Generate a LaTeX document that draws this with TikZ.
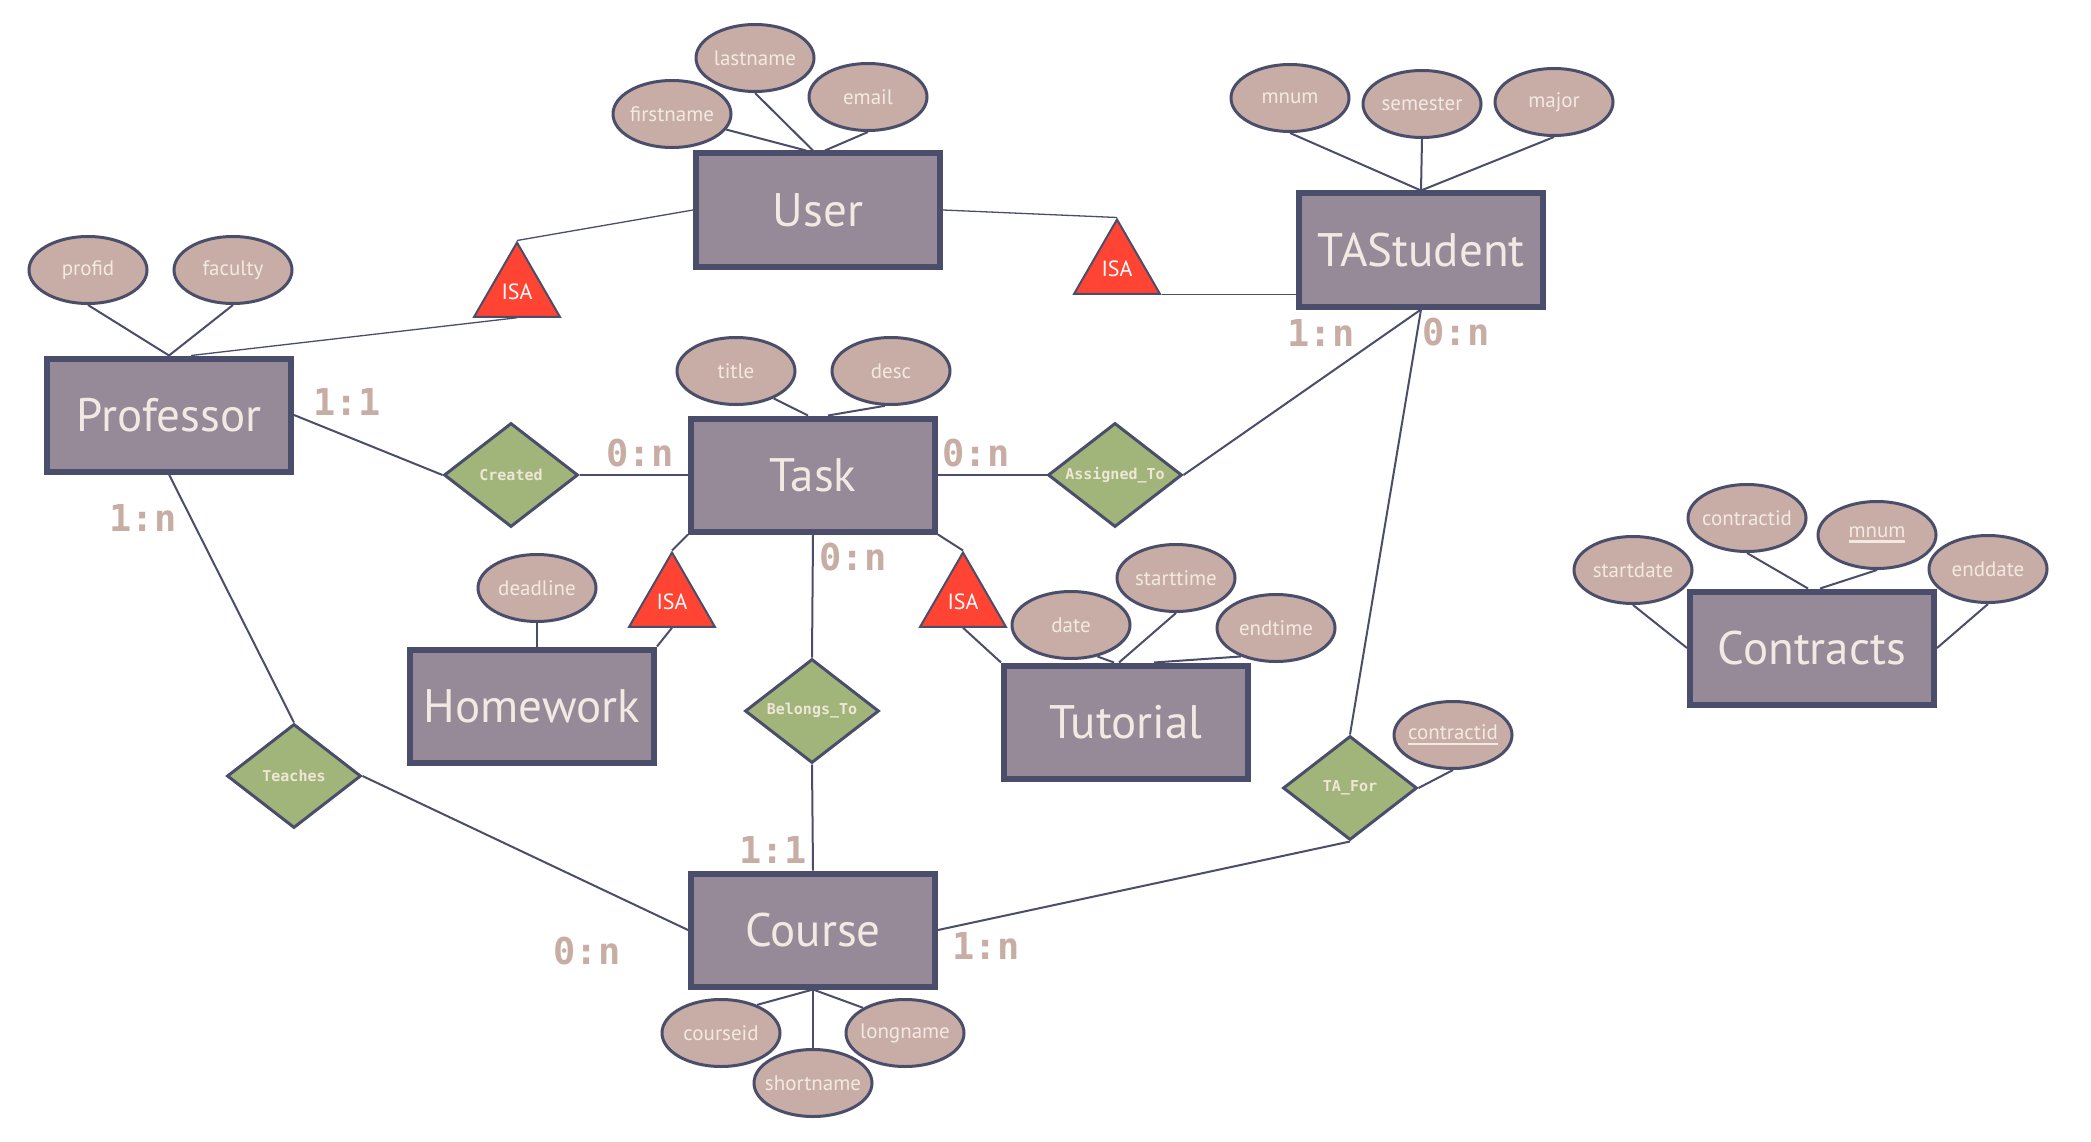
\documentclass[tikz,border=0pt]{standalone}
\usepackage{fontspec}
\setmainfont{PT Sans}
\newfontfamily\monofam{DejaVu Sans Mono}
\usetikzlibrary{shapes.geometric}
\definecolor{entfill}{HTML}{978A98}
\definecolor{edgec}{HTML}{4A4E6A}
\definecolor{attrfill}{HTML}{C7ADA6}
\definecolor{relfill}{HTML}{A1B57A}
\definecolor{isafill}{HTML}{FF4433}
\definecolor{txtc}{HTML}{F3E9E3}
\definecolor{reltxt}{HTML}{EEE6D6}
\definecolor{cardc}{HTML}{C8ADA5}
\newcommand\zw[1]{\makebox[0pt][c]{#1}}
\newcommand\myul[1]{\setbox0=\hbox{#1}\rlap{\rule[-5pt]{\wd0}{2.4pt}}\box0}
\begin{document}
\begin{tikzpicture}[x=1pt,y=-1pt,
  entity/.style={rectangle, draw=edgec, fill=entfill, line width=6pt, minimum width=244pt, minimum height=113pt, inner sep=0pt, text=txtc, font=\fontsize{47}{50}\selectfont},
  attr/.style={ellipse, draw=edgec, fill=attrfill, line width=3pt, minimum width=118pt, minimum height=67pt, inner sep=0pt, text=txtc, font=\fontsize{21}{24}\selectfont},
  rel/.style={diamond, draw=edgec, fill=relfill, line width=3pt, minimum width=134pt, minimum height=104pt, inner sep=0pt, text=reltxt, font=\monofam\bfseries\fontsize{15}{17}\selectfont},
  isa/.style={regular polygon, regular polygon sides=3, draw=edgec, fill=isafill, line width=2pt, minimum size=99pt, inner sep=0pt, text=white, font=\fontsize{22}{24}\selectfont},
  card/.style={text=cardc, font=\monofam\bfseries\fontsize{37}{40}\selectfont, inner sep=0pt},
  conn/.style={draw=edgec, line width=2pt},
  thinconn/.style={draw=edgec, line width=1.3pt}]
\fill[white] (0,0) rectangle (2091,1142);
\useasboundingbox (0,0) rectangle (2091,1142);

% entities
\node[entity] (User) at (818,210) {User};
\node[entity] (TAS) at (1421,250) {TAStudent};
\node[entity] (Prof) at (169,415) {Professor};
\node[entity] (Task) at (813,475) {Task};
\node[entity] (Homework) at (532,706) {Homework};
\node[entity] (Tutorial) at (1126,722) {Tutorial};
\node[entity] (Course) at (813,930) {Course};
\node[entity] (Contracts) at (1812,648) {Contracts};

% attributes
\node[attr] (firstname) at (672,114) {\zw{firstname}};
\node[attr] (lastname) at (755,58) {\zw{lastname}};
\node[attr] (email) at (868,97) {\zw{email}};
\node[attr] (mnum) at (1290,98) {\zw{mnum}};
\node[attr] (semester) at (1422,104) {\zw{semester}};
\node[attr] (major) at (1554,102) {\zw{major}};
\node[attr] (profid) at (88,270) {\zw{profid}};
\node[attr] (faculty) at (233,270) {\zw{faculty}};
\node[attr] (title) at (736,371) {\zw{title}};
\node[attr] (desc) at (891,371) {\zw{desc}};
\node[attr] (deadline) at (537,588) {\zw{deadline}};
\node[attr] (date) at (1071,625) {\zw{date}};
\node[attr] (starttime) at (1176,578) {\zw{starttime}};
\node[attr] (endtime) at (1276,628) {\zw{endtime}};
\node[attr] (tacid) at (1453,735) {\zw{\myul{contractid}}};
\node[attr] (startdate) at (1633,570) {\zw{startdate}};
\node[attr] (ccid) at (1747,518) {\zw{contractid}};
\node[attr] (cmnum) at (1877,535) {\zw{\myul{mnum}}};
\node[attr] (enddate) at (1988,569) {\zw{enddate}};
\node[attr] (courseid) at (721,1033) {\zw{courseid}};
\node[attr] (shortname) at (813,1083) {\zw{shortname}};
\node[attr] (longname) at (905,1033) {\zw{longname}};

% relationships
\node[rel] (Created) at (511,475) {\zw{Created}};
\node[rel] (Assigned) at (1115,475) {\zw{Assigned\_To}};
\node[rel] (Belongs) at (812,711) {\zw{Belongs\_To}};
\node[rel] (Teaches) at (294,776) {\zw{Teaches}};
\node[rel] (TAFor) at (1350,788) {\zw{TA\_For}};

% ISA triangles
\node[isa] (ISA1) at (517,292) {ISA};
\node[isa] (ISA2) at (1117,269) {ISA};
\node[isa] (ISA3) at (672,602) {ISA};
\node[isa] (ISA4) at (963,602) {ISA};

% attribute connectors
\draw[conn] (firstname.-16) -- ([xshift=-12pt]User.north);
\draw[conn] (lastname.south) -- ([xshift=-5pt]User.north);
\draw[conn] (email.south) -- ([xshift=7pt]User.north);
\draw[conn] (mnum.south) -- (TAS.north);
\draw[conn] (semester.south) -- (TAS.north);
\draw[conn] (major.south) -- (TAS.north);
\draw[conn] (profid.south) -- (Prof.north);
\draw[conn] (faculty.south) -- (Prof.north);
\draw[conn] (title.-36) -- ([xshift=-5pt]Task.north);
\draw[conn] (desc.-100) -- ([xshift=15pt]Task.north);
\draw[conn] (deadline.south) -- (deadline.south |- Homework.north);
\draw[conn] (date.-50) -- ([xshift=-12pt]Tutorial.north);
\draw[conn] (starttime.south) -- ([xshift=-7pt]Tutorial.north);
\draw[conn] (endtime.219) -- ([xshift=28pt]Tutorial.north);
\draw[conn] (courseid.38) -- (Course.south);
\draw[conn] (shortname.north) -- (Course.south);
\draw[conn] (longname.149) -- (Course.south);
\draw[conn] (startdate.south) -- (Contracts.west);
\draw[conn] (ccid.south) -- ([xshift=-4pt]Contracts.north);
\draw[conn] (cmnum.south) -- ([xshift=8pt]Contracts.north);
\draw[conn] (enddate.south) -- (Contracts.east);
\draw[conn] (TAFor.east) -- (tacid.south);

% ISA connectors
\draw[thinconn] (User.west) -- (ISA1.corner 1);
\draw[thinconn] (ISA1.side 2) -- ([xshift=22pt]Prof.north);
\draw[thinconn] (User.east) -- (ISA2.corner 1);
\draw[thinconn] (ISA2.corner 3) -- (ISA2.corner 3 -| TAS.west);
\draw[conn] (Task.south west) -- (ISA3.corner 1);
\draw[conn] (ISA3.side 2) -- (Homework.north east);
\draw[conn] (Task.south east) -- (ISA4.corner 1);
\draw[conn] (ISA4.side 2) -- (Tutorial.north west);

% relationship connectors
\draw[conn] (Prof.east) -- (Created.west);
\draw[conn] (Created.east) -- (Task.west);
\draw[conn] (Task.east) -- (Assigned.west);
\draw[conn] (Assigned.east) -- (TAS.south);
\draw[conn] (TAS.south) -- (TAFor.north);
\draw[conn] (Course.east) -- (TAFor.south);
\draw[conn] (Task.south) -- (Belongs.north);
\draw[conn] (Belongs.south) -- (Course.north);
\draw[conn] (Prof.south) -- (Teaches.north);
\draw[conn] (Teaches.east) -- (Course.west);

% cardinalities
\node[card] (c1) at (347,402) {1:1};
\node[card] (c2) at (143,518) {1:n};
\node[card] (c3) at (640,453) {0:n};
\node[card] (c4) at (976,453) {0:n};
\node[card] (c5) at (853,557) {0:n};
\node[card] (c6) at (1321,333) {1:n};
\node[card] (c7) at (1456,332) {0:n};
\node[card] (c8) at (773,850) {1:1};
\node[card] (c9) at (986,946) {1:n};
\node[card] (c10) at (587,951) {0:n};
\end{tikzpicture}
\end{document}
